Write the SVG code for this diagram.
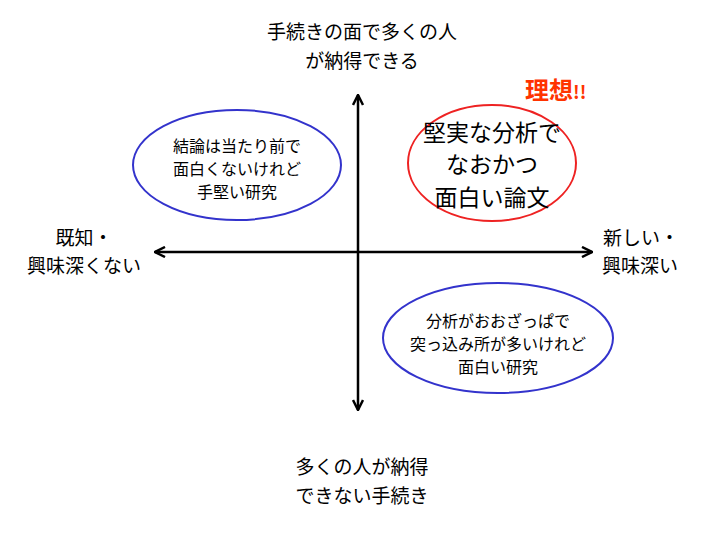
<svg xmlns="http://www.w3.org/2000/svg" width="720" height="540" viewBox="0 0 720 540">
<style>
text{font-family:"Noto Sans CJK JP","Noto Sans",sans-serif;fill:#000;text-anchor:middle}
.l{font-size:19px}.s{font-size:16px}.b{font-size:23px}
.ax{stroke:#000;stroke-width:2.5;fill:none}
</style>
<defs><marker id="ah" viewBox="0 0 12 12" refX="11" refY="6" markerWidth="12" markerHeight="12" markerUnits="userSpaceOnUse" orient="auto-start-reverse"><path d="M1,1 L11,6 L1,11" fill="none" stroke="#000" stroke-width="2.5"/></marker></defs>
<rect width="720" height="540" fill="#fff"/>
<g id="connectors">
<line class="ax" x1="358" y1="95" x2="358" y2="410" marker-start="url(#ah)" marker-end="url(#ah)"/>
<line class="ax" x1="155" y1="252" x2="592" y2="252" marker-start="url(#ah)" marker-end="url(#ah)"/>
</g>
<g id="top"><text class="l" x="362" y="39">手続きの面で多くの人</text><text class="l" x="362" y="68">が納得できる</text></g>
<g id="left"><text class="l" x="84" y="245">既知・</text><text class="l" x="84" y="273">興味深くない</text></g>
<g id="right"><text class="l" x="641" y="245">新しい・</text><text class="l" x="640" y="273">興味深い</text></g>
<g id="bottom"><text class="l" x="362" y="474">多くの人が納得</text><text class="l" x="362" y="503">できない手続き</text></g>
<g id="e1"><ellipse cx="237" cy="165" rx="104" ry="55" fill="none" stroke="#3333cc" stroke-width="2"/>
<text class="s" x="237" y="152">結論は当たり前で</text><text class="s" x="237" y="175">面白くないけれど</text><text class="s" x="237" y="198">手堅い研究</text></g>
<g id="e2"><ellipse cx="492" cy="163" rx="84" ry="58" fill="none" stroke="#ee2222" stroke-width="2"/>
<text class="b" x="492" y="141">堅実な分析で</text><text class="b" x="492" y="173">なおかつ</text><text class="b" x="492" y="206">面白い論文</text></g>
<g id="e3"><ellipse cx="498" cy="338" rx="115" ry="55" fill="none" stroke="#3333cc" stroke-width="2"/>
<text class="s" x="498" y="327">分析がおおざっぱで</text><text class="s" x="498" y="350">突っ込み所が多いけれど</text><text class="s" x="498" y="373">面白い研究</text></g>
<g id="ideal"><text x="525" y="99" style="text-anchor:start;font-size:24px;font-weight:bold;fill:#ff3300">理想<tspan style="font-size:18px">!!</tspan></text></g>
</svg>
